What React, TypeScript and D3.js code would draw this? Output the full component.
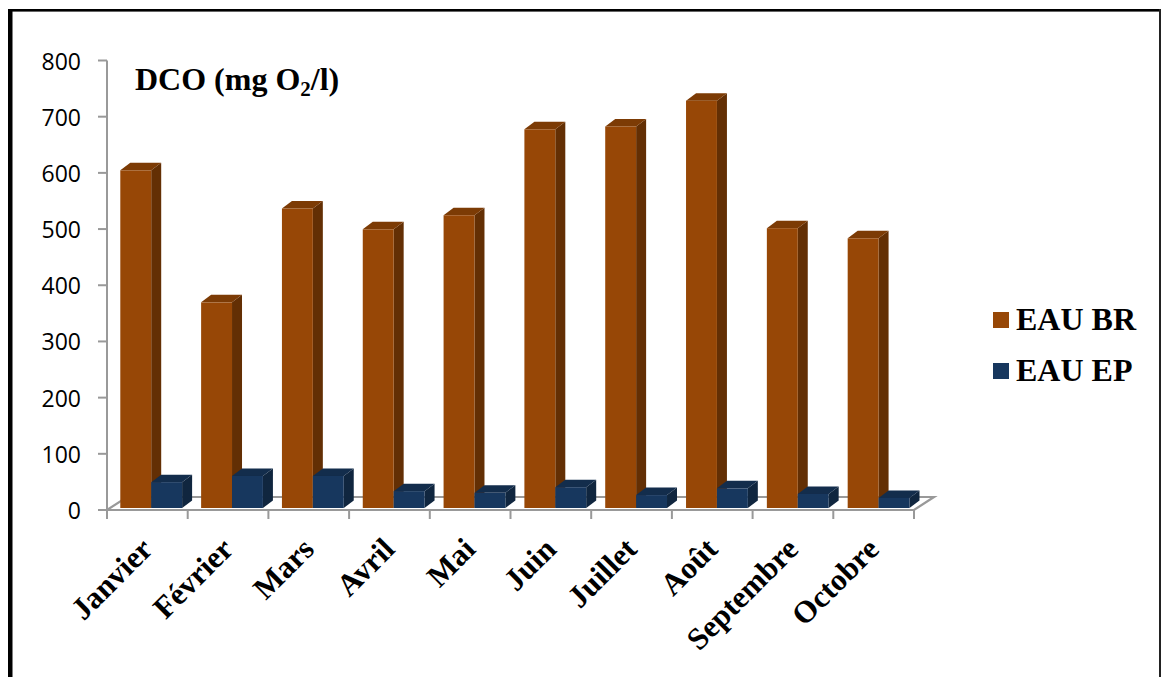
import React from "react";
import * as d3 from "d3";

const months = ["Janvier", "Février", "Mars", "Avril", "Mai", "Juin", "Juillet", "Août", "Septembre", "Octobre"];
const eauBr = [601, 366, 533, 496, 521, 674, 679, 725, 498, 480];
const eauEp = [46, 57, 57, 30, 27, 37, 23, 35, 25, 18];
const yTicks = [0, 100, 200, 300, 400, 500, 600, 700, 800];

const seriesNames = ["EAU BR", "EAU EP"];
const seriesColors = [
  { front: "#974706", side: "#632F04", top: "#7C3B05" },
  { front: "#17375E", side: "#10263F", top: "#132D4C" },
];

const axisColor = "#999999";
const serif = "'Liberation Serif', serif";
const sans = "'Open Sans', sans-serif";

const W = 1162;
const H = 677;
const axisX0 = 107;
const axisX1 = 914;
const axisY0 = 510;
const axisY1 = 60.5;
const floorDx = 20;
const floorDy = 13;
const barDx = 10;
const barDy = 7.5;
const barLift = 2;

const x = d3.scaleBand<string>().domain(months).range([axisX0, axisX1]);
// The bars sit on the raised floor plane, so their spacing runs slightly wider than the axis ticks.
const xBars = d3.scaleBand<string>().domain(months).range([106.9, 915.1]);
const y = d3.scaleLinear().domain([0, 800]).range([axisY0, axisY1]);
const poly = d3.line();

function Bar({ left, width, value, colors }: { left: number; width: number; value: number; colors: typeof seriesColors[0] }) {
  const top = y(value) - barLift;
  const bottom = axisY0 - barLift;
  const right = left + width;
  return (
    <g>
      <path
        d={poly([[right, top], [right + barDx, top - barDy], [right + barDx, bottom - barDy], [right, bottom]]) + "Z"}
        fill={colors.side}
      />
      <path
        d={poly([[left, top], [left + barDx, top - barDy], [right + barDx, top - barDy], [right, top]]) + "Z"}
        fill={colors.top}
      />
      <rect x={left} y={top} width={width} height={bottom - top} fill={colors.front} />
    </g>
  );
}

export default function App() {
  const barW = 30.9;
  const inset = 13.4;
  return (
    <svg width={W} height={H} style={{ position: "absolute", left: 0, top: 0, display: "block", background: "#fff" }}>
      {/* frame around the figure, open at the bottom */}
      <rect x={8} y={9} width={4.5} height={H - 9} fill="#000" />
      <rect x={8} y={9} width={1152} height={2.6} fill="#000" />
      <rect x={1159} y={9} width={2} height={H - 9} fill="#222" />

      {/* floor of the 3D plot */}
      <path
        d={poly([
          [axisX0, axisY0],
          [axisX0 + floorDx, axisY0 - floorDy],
          [axisX1 + floorDx, axisY0 - floorDy],
          [axisX1, axisY0],
        ]) + "Z"}
        fill="none"
        stroke={axisColor}
        strokeWidth={2.2}
      />

      {/* value axis */}
      <line x1={axisX0} x2={axisX0} y1={axisY1} y2={axisY0} stroke={axisColor} strokeWidth={2} />
      {yTicks.map((t) => (
        <g key={t}>
          <line x1={axisX0 - 9} x2={axisX0} y1={y(t)} y2={y(t)} stroke={axisColor} strokeWidth={2} />
          <text x={81} y={y(t) + 9} textAnchor="end" fontFamily={sans} fontSize={23} fill="#000">
            {t}
          </text>
        </g>
      ))}

      {/* category axis ticks */}
      {[...months.map((m) => x(m)!), axisX1].map((tx) => (
        <line key={tx} x1={tx} x2={tx} y1={axisY0} y2={axisY0 + 9} stroke={axisColor} strokeWidth={2} />
      ))}

      {/* bars */}
      {months.map((m, i) => {
        const left = xBars(m)! + inset;
        return (
          <g key={m}>
            <Bar left={left} width={barW} value={eauBr[i]} colors={seriesColors[0]} />
            <Bar left={left + barW} width={barW} value={eauEp[i]} colors={seriesColors[1]} />
          </g>
        );
      })}

      {/* category labels */}
      {months.map((m) => {
        const tx = x(m)! + x.bandwidth() / 2 + 7;
        const ty = 551;
        return (
          <text
            key={m}
            transform={`translate(${tx},${ty}) rotate(-45)`}
            textAnchor="end"
            fontFamily={serif}
            fontWeight="bold"
            fontSize={31}
            fill="#000"
          >
            {m}
          </text>
        );
      })}

      {/* chart title */}
      <text x={135} y={90} fontFamily={serif} fontWeight="bold" fontSize={32} fill="#000">
        DCO (mg O
        <tspan fontSize={21} dy={6}>2</tspan>
        <tspan dy={-6}>/l)</tspan>
      </text>

      {/* legend */}
      {seriesNames.map((name, i) => (
        <g key={name}>
          <rect x={993} y={312 + i * 51} width={16} height={16} fill={seriesColors[i].front} />
          <text x={1016} y={330 + i * 51} fontFamily={serif} fontWeight="bold" fontSize={32} fill="#000">
            {name}
          </text>
        </g>
      ))}
    </svg>
  );
}
